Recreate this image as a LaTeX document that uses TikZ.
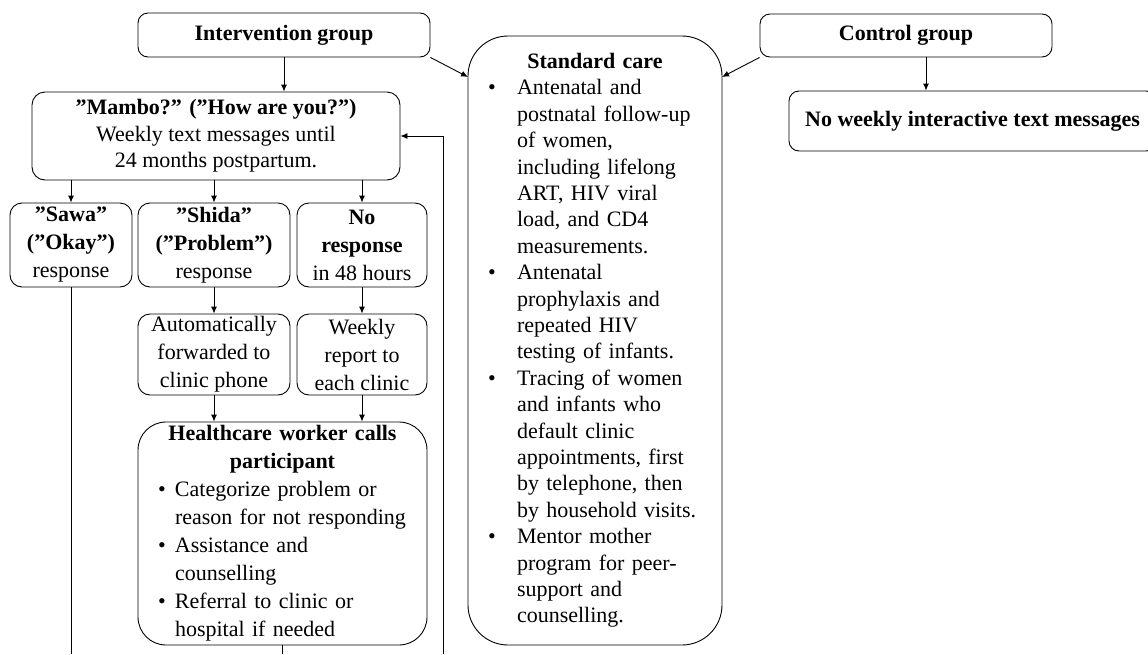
\documentclass[tikz,border=0pt]{standalone}
\usepackage{fontspec}
\setmainfont{Liberation Serif}
\usetikzlibrary{arrows.meta}

\tikzset{
  box/.style={draw, line width=0.9pt, rounded corners=10pt, align=center,
    inner sep=0pt, font=\fontsize{22pt}{28pt}\selectfont},
  arr/.style={draw, line width=0.9pt, -{Latex[length=7pt,width=6pt]}},
  ln/.style={line width=0.9pt}
}

% bullet lines inside the big boxes
\newcommand\hcitem{\par\noindent\hangindent=37pt\hangafter=1\hspace*{20pt}\makebox[17pt][l]{\textbullet}}
\newcommand\stditem{\par\noindent\hangindent=49pt\hangafter=1\hspace*{20pt}\makebox[29pt][l]{\textbullet}}

\begin{document}
\begin{tikzpicture}[x=1pt,y=-1pt]

  \path[use as bounding box] (0,0) rectangle (1148,654);
  \clip (0,0) rectangle (1148,654);

  \begin{scope}[every node/.style={box}]
    \node (interv) at (284,35) [minimum width=292pt, minimum height=44pt] {\textbf{Intervention group}};
    \node (ctrl) at (906,35.5) [minimum width=292pt, minimum height=43pt] {\textbf{Control group}};
    \node (noweekly) at (972.5,121) [minimum width=367pt, minimum height=60pt] {\textbf{No weekly interactive text messages}};
    \node (mambo) at (216,136) [minimum width=368pt, minimum height=88pt, rounded corners=13pt,
      font=\fontsize{22pt}{26.5pt}\selectfont]
      {\textbf{”Mambo?” (”How are you?”)}\\ Weekly text messages until\\ 24 months postpartum.};
    \node (sawa) at (71,245) [minimum width=122pt, minimum height=84pt, rounded corners=12pt]
      {\textbf{”Sawa”}\\ \textbf{(”Okay”)}\\ response};
    \node (shida) at (214,245) [minimum width=152pt, minimum height=84pt, rounded corners=12pt]
      {\textbf{”Shida”}\\ \textbf{(”Problem”)}\\ response};
    \node (noresp) at (362,245) [minimum width=130pt, minimum height=84pt, rounded corners=12pt]
      {\textbf{No}\\ \textbf{response}\\ in 48 hours};
    \node (auto) at (214,354.5) [minimum width=152pt, minimum height=81pt, rounded corners=12pt]
      {Automatically\\ forwarded to\\ clinic phone};
    \node (weekly) at (362,354.5) [minimum width=130pt, minimum height=81pt, rounded corners=12pt]
      {Weekly\\ report to\\ each clinic};
    \node (hc) at (282.5,533.5) [text width=289pt, minimum height=223pt, rounded corners=28pt, align=left]
      {{\centering\bfseries Healthcare worker calls\\ participant\par}
       \hcitem Categorize problem or\newline reason for not responding
       \hcitem Assistance and\newline counselling
       \hcitem Referral to clinic or\newline hospital if needed\par};
    \node (std) at (595,340.5) [text width=254pt, minimum height=609pt, rounded corners=40pt, align=left,
      font=\fontsize{22pt}{26.4pt}\selectfont]
      {{\centering\bfseries Standard care\par}
       \stditem Antenatal and\newline postnatal follow-up\newline of women,\newline including lifelong\newline
         ART, HIV viral\newline load, and CD4\newline measurements.
       \stditem Antenatal\newline prophylaxis and\newline repeated HIV\newline testing of infants.
       \stditem Tracing of women\newline and infants who\newline default clinic\newline appointments, first\newline
         by telephone, then\newline by household visits.
       \stditem Mentor mother\newline program for peer-\newline support and\newline counselling.\par};
  \end{scope}

  \coordinate (stdleft) at (468,77);
  \coordinate (stdright) at (722,77);
  \coordinate (loopbot) at (443,654);

  \begin{scope}[every edge/.style={arr}]
    \path (interv.south) edge (interv.south |- mambo.north);
    \path (interv.south east) edge (stdleft);
    \path (ctrl.south west) edge (stdright);
    \path ([xshift=20pt]ctrl.south) edge ([xshift=20pt]ctrl.south |- noweekly.north);
    \path (sawa.north |- mambo.south) edge (sawa.north);
    \path (shida.north |- mambo.south) edge (shida.north);
    \path (noresp.north |- mambo.south) edge (noresp.north);
    \path (shida) edge (auto);
    \path (noresp) edge (weekly);
    \path (auto.south) edge (auto.south |- hc.north);
    \path (weekly.south) edge (weekly.south |- hc.north);
  \end{scope}

  \draw[ln] (sawa.south) -- (sawa.south |- loopbot);
  \draw[ln] (hc.south) -- (hc.south |- loopbot);
  \draw[arr] (loopbot) |- (mambo.east);

\end{tikzpicture}
\end{document}
